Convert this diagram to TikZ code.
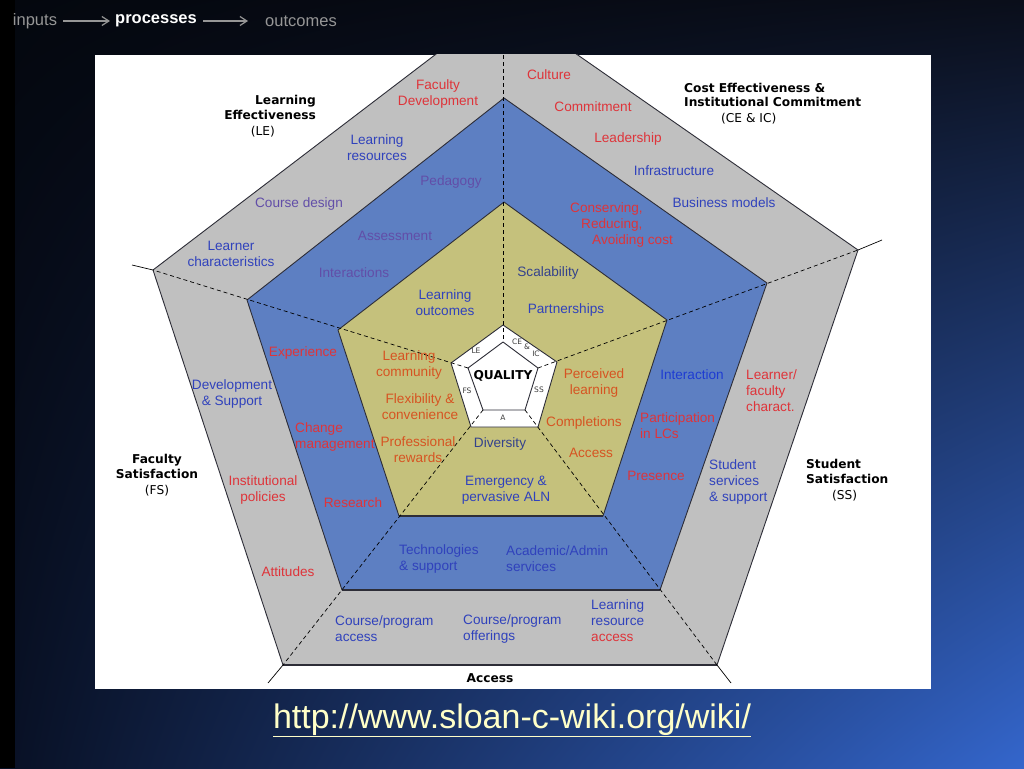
\documentclass[tikz,border=0pt]{standalone}
\usepackage{fontspec}
\setmainfont{Liberation Sans}
\newfontfamily\verd{DejaVu Sans}
\usetikzlibrary{arrows.meta,shadings}
\definecolor{bgtl}{RGB}{4,7,14}
\definecolor{bgtr}{RGB}{10,14,26}
\definecolor{bgbl}{RGB}{8,16,36}
\definecolor{bgbr}{RGB}{52,102,204}
\definecolor{ringgray}{RGB}{192,192,192}
\definecolor{ringblue}{RGB}{93,127,194}
\definecolor{ringkhaki}{RGB}{197,193,124}
\definecolor{edge}{RGB}{45,45,55}
\definecolor{lred}{RGB}{222,52,58}
\definecolor{lorange}{RGB}{214,84,34}
\definecolor{lblue}{RGB}{48,66,188}
\definecolor{lvivid}{RGB}{30,60,210}
\definecolor{lpurple}{RGB}{98,78,168}
\definecolor{lslate}{RGB}{52,66,140}
\definecolor{tagc}{RGB}{60,60,60}
\definecolor{barfg}{RGB}{150,150,150}
\definecolor{urlc}{RGB}{255,255,200}
\tikzset{
    ring/.style =   {draw=edge,
                    line width=0.9pt,
                    line join=round},
    base/.style =   {draw=edge,
                    line width=1.8pt},
    spoke/.style =  {draw=black,
                    dash pattern=on 4pt off 3pt,
                    line width=0.7pt},
    stub/.style =   {draw=black,
                    line width=0.7pt},
    lbl/.style =    {inner sep=0pt,
                    align=center,
                    font=\fontsize{13.6}{16}\selectfont},
    lbll/.style =   {lbl,
                    align=left,
                    anchor=west},
    head/.style =   {inner sep=0pt,
                    align=center,
                    text=black,
                    font=\verd\bfseries\fontsize{12.2}{15.5}\selectfont},
    tag/.style =    {inner sep=0pt,
                    text=tagc,
                    font=\verd\fontsize{7.5}{8}\selectfont},
    bar/.style =    {inner sep=2pt,
                    text=barfg,
                    font=\fontsize{16.5}{18}\selectfont},
    -,
    flow/.style =   {draw=barfg,
                    line width=1.2pt,
                    -{Straight Barb[length=7pt,width=9pt]},
                    shorten >= 3pt,
                    shorten <= 4pt}}

\begin{document}
\begin{tikzpicture}[x=1pt,y=-1pt]
    \useasboundingbox (0,0) rectangle (1024,768);
    \shade[upper left=bgtl,upper right=bgtr,lower left=bgbl,lower right=bgbr] (0,0) rectangle (1024,768);
    \fill[black] (0,0) rectangle (15,768);
    \fill[white] (95,55) rectangle (931,689);

    % ring corners
    \coordinate (o1) at (503,3);   \coordinate (o2) at (858,250); \coordinate (o3) at (717,665);
    \coordinate (o4) at (283,665); \coordinate (o5) at (153,270);
    \coordinate (b1) at (504,98);  \coordinate (b2) at (767,283); \coordinate (b3) at (660,590);
    \coordinate (b4) at (342,590); \coordinate (b5) at (247,300);
    \coordinate (y1) at (504,202); \coordinate (y2) at (667,320); \coordinate (y3) at (603,516);
    \coordinate (y4) at (399,516); \coordinate (y5) at (338,330);
    \coordinate (w1) at (503,325); \coordinate (w2) at (557,362); \coordinate (w3) at (538,427);
    \coordinate (w4) at (471,427); \coordinate (w5) at (451,363);
    \coordinate (q1) at (503,342); \coordinate (q2) at (538,368); \coordinate (q3) at (525,410);
    \coordinate (q4) at (483,410); \coordinate (q5) at (468,368);
    \coordinate (e1) at (503,55);  \coordinate (e2) at (882,240); \coordinate (e3) at (731,683);
    \coordinate (e4) at (268,683); \coordinate (e5) at (132,265);

    \begin{scope}
        \clip (95,55) rectangle (931,689);
        \path[ring,fill=ringgray]  (o1) -- (o2) -- (o3) -- (o4) -- (o5) -- cycle;
        \path[ring,fill=ringblue]  (b1) -- (b2) -- (b3) -- (b4) -- (b5) -- cycle;
        \path[ring,fill=ringkhaki] (y1) -- (y2) -- (y3) -- (y4) -- (y5) -- cycle;
        \path[ring,fill=white]     (w1) -- (w2) -- (w3) -- (w4) -- (w5) -- cycle;
        \path[ring,fill=white]     (q1) -- (q2) -- (q3) -- (q4) -- (q5) -- cycle;
        \draw[base] (o3) -- (o4);
        \draw[base] (b3) -- (b4);
        \draw[base,line width=1.3pt] (y3) -- (y4);
        \draw[spoke] (e1) -- (q1);
        \draw[spoke] (q2) -- (o2);
        \draw[spoke] (q3) -- (o3);
        \draw[spoke] (q4) -- (o4);
        \draw[spoke] (q5) -- (o5);
        \draw[stub] (o2) -- (e2);
        \draw[stub] (o3) -- (e3);
        \draw[stub] (o4) -- (e4);
        \draw[stub] (o5) -- (e5);
    \end{scope}

    % outer ring
    \node[lbl,text=lred]    (facdev) at (438,94)  {Faculty\\Development};
    \node[lbl,text=lred]    (cult)   at (549,75)  {Culture};
    \node[lbl,text=lred]    (commit) at (593,107) {Commitment};
    \node[lbl,text=lred]    (lead)   at (628,139) {Leadership};
    \node[lbl,text=lblue]   (infra)  at (674,171) {Infrastructure};
    \node[lbl,text=lblue]   (busi)   at (724,203) {Business models};
    \node[lbl,text=lblue]   (lres)   at (377,148) {Learning\\resources};
    \node[lbl,text=lpurple] (cdes)   at (299,204) {Course design};
    \node[lbl,text=lblue]   (lchar)  at (231,254) {Learner\\characteristics};
    \node[lbl,text=lblue]   (devsup) at (232,394) {Development\\\& Support};
    \node[lbl,text=lred]    (inst)   at (263,490) {Institutional\\policies};
    \node[lbl,text=lred]    (att)    at (288,572) {Attitudes};
    \node[lbll,text=lred]   (lfac)   at (746,391) {Learner/\\faculty\\charact.};
    \node[lbll,text=lblue]  (stud)   at (709,482) {Student\\services\\\& support};
    \node[lbll,text=lblue]  (cpa)    at (335,629) {Course/program\\access};
    \node[lbll,text=lblue]  (cpo)    at (463,629) {Course/program\\offerings};
    \node[lbll,text=lblue]  (lra)    at (591,621) {Learning\\resource\\\textcolor{lred}{access}};

    % blue ring
    \node[lbl,text=lpurple] (peda)   at (451,182) {Pedagogy};
    \node[lbl,text=lpurple] (assess) at (395,236) {Assessment};
    \node[lbl,text=lpurple] (inter)  at (354,273) {Interactions};
    \node[lbll,text=lred]   (cons)   at (570,225) {Conserving,\\\hspace{11pt}Reducing,\\\hspace{22pt}Avoiding cost};
    \node[lbl,text=lred]    (exper)  at (303,353) {Experience};
    \node[lbll,text=lred]   (chg)    at (295,437) {Change\\management};
    \node[lbl,text=lred]    (res)    at (353,503) {Research};
    \node[lbl,text=lvivid]  (intn)   at (692,375) {Interaction};
    \node[lbll,text=lred]   (part)   at (640,426) {Participation\\in LCs};
    \node[lbl,text=lred]    (pres)   at (656,476) {Presence};
    \node[lbll,text=lblue]  (tech)   at (399,559) {Technologies\\\& support};
    \node[lbll,text=lblue]  (acad)   at (506,559) {Academic/Admin\\services};

    % khaki ring
    \node[lbl,text=lblue]   (lout)   at (445,303) {Learning\\outcomes};
    \node[lbl,text=lslate]  (scal)   at (548,273) {Scalability};
    \node[lbl,text=lblue]   (partn)  at (566,310) {Partnerships};
    \node[lbl,text=lorange] (lcom)   at (409,365) {Learning\\community};
    \node[lbl,text=lorange] (flex)   at (420,407) {Flexibility \&\\convenience};
    \node[lbl,text=lorange] (prof)   at (418,450) {Professional\\rewards};
    \node[lbl,text=lslate]  (div)    at (500,444) {Diversity};
    \node[lbl,text=lblue]   (emer)   at (506,490) {Emergency \&\\pervasive ALN};
    \node[lbl,text=lorange] (perc)   at (594,383) {Perceived\\learning};
    \node[lbl,text=lorange] (compl)  at (584,423) {Completions};
    \node[lbl,text=lorange] (acc)    at (591,453) {Access};

    % centre
    \node[head] (QUAL) at (503,376) {QUALITY};
    \node[tag]  (tLE)  at (476,351) {LE};
    \node[tag]  (tCE)  at (517,342) {CE};
    \node[tag]  (tAND) at (527,347) {\&};
    \node[tag]  (tIC)  at (536,354) {IC};
    \node[tag]  (tFS)  at (467,391) {FS};
    \node[tag]  (tSS)  at (539,390) {SS};
    \node[tag]  (tA)   at (503,418) {A};

    % headings
    \node[head,align=right,anchor=east] (LE) at (316,116) {Learning\\Effectiveness\\{\mdseries (LE)}\hspace{41pt}\mbox{}};
    \node[head,align=left,anchor=west,font=\verd\bfseries\fontsize{12.2}{13.5}\selectfont] (CE) at (684,104) {Cost Effectiveness \&\\Institutional Commitment\\[3pt]\hspace{37pt}{\mdseries (CE \& IC)}};
    \node[head] (FS) at (157,475) {Faculty\\Satisfaction\\{\mdseries (FS)}};
    \node[head,align=left,anchor=west] (SS) at (806,480) {Student\\Satisfaction\\\hspace{26pt}{\mdseries (SS)}};
    \node[head] (ACC) at (490,678) {Access};

    % top bar
    \node[bar]                (inputs)    at (35,21)  {inputs};
    \node[bar,text=white,font=\bfseries\fontsize{16.5}{18}\selectfont] (processes) at (156,21) {processes};
    \node[bar]                (outcomes)  at (301,21) {outcomes};
    \draw[flow] (inputs) -- (processes);
    \draw[flow,shorten >=15pt] (processes) -- (outcomes);

    \node[inner sep=0pt,anchor=base,text=urlc,font=\fontsize{34}{38}\selectfont] (link) at (512,728) {\underline{http://www.sloan-c-wiki.org/wiki/}};
\end{tikzpicture}
\end{document}
